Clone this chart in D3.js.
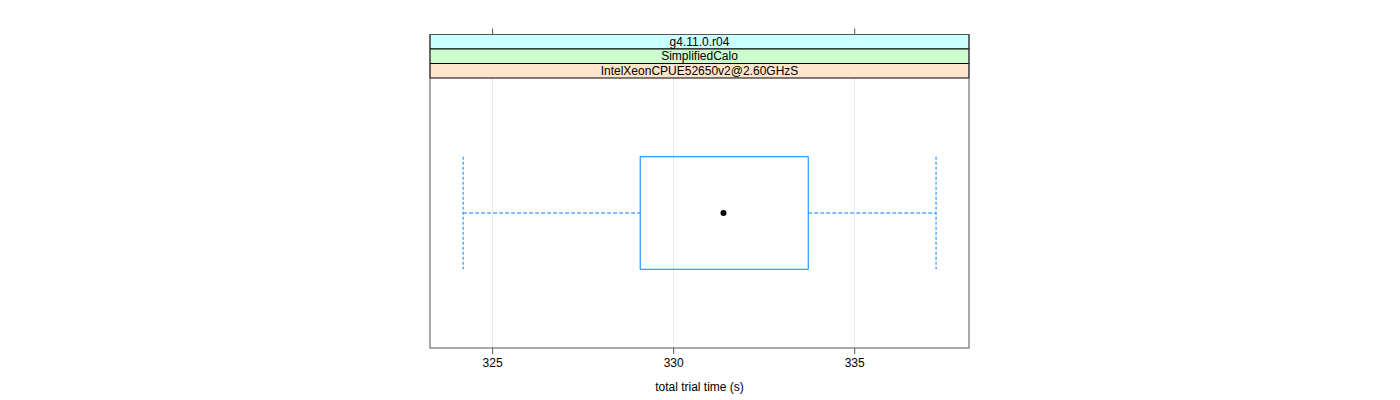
<!DOCTYPE html>
<html>
<head>
<meta charset="utf-8">
<script src="https://cdn.jsdelivr.net/npm/d3@7"></script>
<style>
  body { margin: 0; background: #fff; }
  svg { display: block; font-family: "Liberation Sans", Arial, sans-serif; }
</style>
</head>
<body>
<svg id="chart" width="1400" height="400"></svg>
<script>
// ---- data ----
const stripLabels = ["g4.11.0.r04", "SimplifiedCalo", "IntelXeonCPUE52650v2@2.60GHzS"];
const stripColors = ["#ccffff", "#ccffcc", "#ffe5cc"];
const categories = ["IntelXeonCPUE52650v2@2.60GHzS"];
const whiskerLow = [324.2];
const q1 = [329.09];
const median = [331.39];
const q3 = [333.73];
const whiskerHigh = [337.26];
const xTicks = [325, 330, 335];
const topTicks = [325, 335];
const xDomain = [323.285, 338.17];
const xLabel = "total trial time (s)";

// ---- layout ----
const svg = d3.select("#chart");
const pLeft = 430, pRight = 969;
const pTop = 34.5, stripH = 14.5;
const panelTop = pTop + stripH * stripLabels.length;
const panelBottom = 348;

const x = d3.scaleLinear().domain(xDomain).range([pLeft, pRight]);
const y = d3.scaleBand().domain(categories).range([panelTop, panelBottom]).paddingInner(0);
const yc = c => y(c) + y.bandwidth() / 2;
const boxH = y.bandwidth() * (0.5 / 1.2);

// grid lines
svg.append("g").selectAll("line").data(xTicks).join("line")
  .attr("x1", d => Math.round(x(d)) + 0.5).attr("x2", d => Math.round(x(d)) + 0.5)
  .attr("y1", panelTop).attr("y2", panelBottom)
  .attr("stroke", "#ebebeb").attr("stroke-width", 1);

// strips
const strips = svg.append("g");
stripLabels.forEach((lab, i) => {
  const sy = pTop + i * stripH;
  strips.append("rect").attr("x", pLeft).attr("y", sy).attr("width", pRight - pLeft).attr("height", stripH)
    .attr("fill", stripColors[i]).attr("stroke", "#000").attr("stroke-width", 1);
  strips.append("text").attr("x", (pLeft + pRight) / 2).attr("y", sy + stripH / 2 + 4)
    .attr("text-anchor", "middle").attr("font-size", 12).attr("fill", "#000").text(lab);
});

// panel border
svg.append("rect").attr("x", pLeft).attr("y", pTop).attr("width", pRight - pLeft).attr("height", panelBottom - pTop)
  .attr("fill", "none").attr("stroke", "#555").attr("stroke-width", 1);

// axes
const xAxisB = d3.axisBottom(x).tickValues(xTicks).tickSize(6).tickPadding(4).tickFormat(d3.format("d"));
const gb = svg.append("g").attr("transform", `translate(0,${panelBottom})`).call(xAxisB);
gb.select(".domain").remove();
gb.selectAll("line").attr("stroke", "#555");
gb.selectAll("text").attr("font-size", 12).attr("fill", "#000").attr("font-family", "Liberation Sans, Arial, sans-serif");

const xAxisT = d3.axisTop(x).tickValues(topTicks).tickSize(6).tickFormat("");
const gt = svg.append("g").attr("transform", `translate(0,${pTop})`).call(xAxisT);
gt.select(".domain").remove();
gt.selectAll("line").attr("stroke", "#555");

svg.append("text").attr("x", (pLeft + pRight) / 2).attr("y", 391)
  .attr("text-anchor", "middle").attr("font-size", 12).attr("fill", "#000").text(xLabel);

// box plot
const boxCol = "#0080ff";
const g = svg.append("g");
categories.forEach((c, i) => {
  const cy = yc(c);
  const t = cy - boxH / 2, b = cy + boxH / 2;
  g.append("line").attr("x1", x(whiskerLow[i])).attr("x2", x(q1[i])).attr("y1", cy).attr("y2", cy)
    .attr("stroke", boxCol).attr("stroke-dasharray", "4,2");
  g.append("line").attr("x1", x(q3[i])).attr("x2", x(whiskerHigh[i])).attr("y1", cy).attr("y2", cy)
    .attr("stroke", boxCol).attr("stroke-dasharray", "4,2");
  [whiskerLow[i], whiskerHigh[i]].forEach(v => {
    g.append("line").attr("x1", x(v)).attr("x2", x(v)).attr("y1", t).attr("y2", b)
      .attr("stroke", boxCol).attr("stroke-dasharray", "3,2");
  });
  g.append("rect").attr("x", x(q1[i])).attr("y", t).attr("width", x(q3[i]) - x(q1[i])).attr("height", b - t)
    .attr("fill", "none").attr("stroke", boxCol).attr("stroke-width", 1);
  g.append("circle").attr("cx", x(median[i])).attr("cy", cy).attr("r", 3).attr("fill", "#000");
});
</script>
</body>
</html>
